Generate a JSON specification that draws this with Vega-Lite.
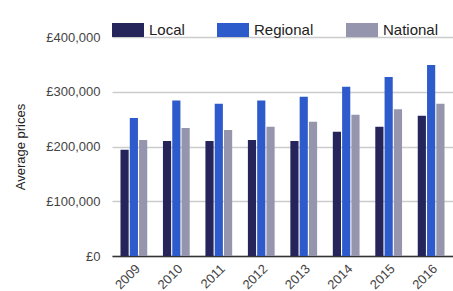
{
  "$schema": "https://vega.github.io/schema/vega-lite/v6.json",
  "width": 341,
  "height": 219,
  "autosize": {"type": "none"},
  "padding": {"left": 112, "top": 37, "right": 0, "bottom": 35},
  "background": "white",
  "config": {
    "view": {"stroke": null},
    "font": "Liberation Sans"
  },
  "data": {
    "values": [
      {"year": "2009", "type": "Local", "price": 194000},
      {"year": "2009", "type": "Regional", "price": 252000},
      {"year": "2009", "type": "National", "price": 212000},
      {"year": "2010", "type": "Local", "price": 210000},
      {"year": "2010", "type": "Regional", "price": 284000},
      {"year": "2010", "type": "National", "price": 234000},
      {"year": "2011", "type": "Local", "price": 210000},
      {"year": "2011", "type": "Regional", "price": 278000},
      {"year": "2011", "type": "National", "price": 230000},
      {"year": "2012", "type": "Local", "price": 212000},
      {"year": "2012", "type": "Regional", "price": 284000},
      {"year": "2012", "type": "National", "price": 236000},
      {"year": "2013", "type": "Local", "price": 210000},
      {"year": "2013", "type": "Regional", "price": 291000},
      {"year": "2013", "type": "National", "price": 245000},
      {"year": "2014", "type": "Local", "price": 227000},
      {"year": "2014", "type": "Regional", "price": 309000},
      {"year": "2014", "type": "National", "price": 258000},
      {"year": "2015", "type": "Local", "price": 236000},
      {"year": "2015", "type": "Regional", "price": 327000},
      {"year": "2015", "type": "National", "price": 268000},
      {"year": "2016", "type": "Local", "price": 256000},
      {"year": "2016", "type": "Regional", "price": 349000},
      {"year": "2016", "type": "National", "price": 278000}
    ]
  },
  "mark": {"type": "bar"},
  "encoding": {
    "x": {
      "field": "year",
      "type": "nominal",
      "scale": {"paddingInner": 0.37, "paddingOuter": 0.2},
      "axis": {
        "title": null,
        "labelAngle": -45,
        "labelFontSize": 13,
        "labelColor": "#444444",
        "ticks": false,
        "domainColor": "#333333",
        "domainWidth": 1.5,
        "labelPadding": 6
      }
    },
    "xOffset": {
      "field": "type",
      "type": "nominal",
      "sort": ["Local", "Regional", "National"],
      "scale": {"paddingInner": 0.12}
    },
    "y": {
      "field": "price",
      "type": "quantitative",
      "scale": {"domain": [0, 400000]},
      "axis": {
        "title": "Average prices",
        "titleFontSize": 13,
        "titleFontWeight": "normal",
        "titleColor": "#222222",
        "titlePadding": 18,
        "values": [0, 100000, 200000, 300000, 400000],
        "labelExpr": "'£' + format(datum.value, ',')",
        "labelFontSize": 13,
        "labelColor": "#444444",
        "labelPadding": 12,
        "ticks": false,
        "domain": false,
        "gridColor": "#cccccc",
        "gridWidth": 1.5
      }
    },
    "color": {
      "field": "type",
      "type": "nominal",
      "sort": ["Local", "Regional", "National"],
      "scale": {
        "domain": ["Local", "Regional", "National"],
        "range": ["#25255c", "#2e5bcc", "#9595ae"]
      },
      "legend": {
        "title": null,
        "orient": "none",
        "legendX": 0,
        "legendY": -23,
        "direction": "horizontal",
        "symbolType": "M-1,-0.4375H1V0.4375H-1Z",
        "symbolSize": 1024,
        "symbolStrokeWidth": 0,
        "labelFontSize": 15,
        "labelColor": "#222222",
        "labelOffset": 5,
        "columnPadding": 32
      }
    }
  }
}
